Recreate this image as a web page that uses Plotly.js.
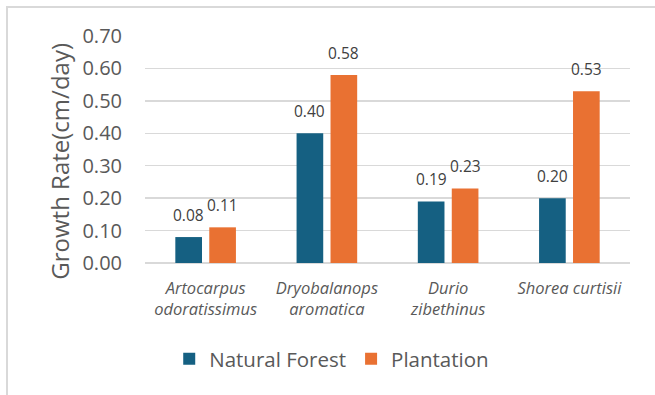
<!DOCTYPE html>
<html>
<head>
<meta charset="utf-8">
<script src="https://cdn.plot.ly/plotly-3.0.1.min.js"></script>
<style>
  html, body { margin: 0; padding: 0; background: #ffffff; }
  #wrap { position: relative; width: 655px; height: 395px; overflow: hidden; }
  #chart { position: absolute; left: 0; top: 0; width: 655px; height: 395px; }
  #frame { position: absolute; left: 6px; top: 6px; width: 700px; height: 450px;
           border-left: 2px solid #d9d9d9; border-top: 2px solid #d9d9d9; pointer-events: none; }
</style>
</head>
<body>
<div id="wrap">
  <div id="chart"></div>
  <div id="frame"></div>
</div>
<script>
// Species (x categories) and growth rates in cm/day
const species = [
  "Artocarpus<br>odoratissimus",
  "Dryobalanops<br>aromatica",
  "Durio<br>zibethinus",
  "Shorea curtisii"
];
const naturalForest = [0.08, 0.40, 0.19, 0.20];
const plantation = [0.11, 0.58, 0.23, 0.53];
const seriesNames = ["Natural Forest", "Plantation"];
const yTicks = [0, 0.1, 0.2, 0.3, 0.4, 0.5, 0.6, 0.7];
const yTickText = yTicks.map(v => v.toFixed(2));

const BLUE = "#156082";
const ORANGE = "#E97132";
const FONT = "Open Sans, Noto Sans, sans-serif";

const traces = [
  { type: "bar", name: seriesNames[0], x: species, y: naturalForest,
    marker: { color: BLUE }, hoverinfo: "skip" },
  { type: "bar", name: seriesNames[1], x: species, y: plantation,
    marker: { color: ORANGE }, hoverinfo: "skip" }
];

// Value labels above each bar, offset left/right to sit over its own bar
const annotations = [];
[[naturalForest, -17], [plantation, 17]].forEach(([vals, dx]) => {
  vals.forEach((v, i) => {
    annotations.push({
      x: species[i], y: v, xref: "x", yref: "y",
      text: v.toFixed(2), showarrow: false,
      xshift: dx, yshift: 22,
      font: { family: FONT, size: 15.5, color: "#404040" }
    });
  });
});

// Vertical axis title
annotations.push({
  xref: "paper", yref: "paper", x: -0.177, y: 0.447,
  xanchor: "center", yanchor: "middle",
  text: "Growth Rate(cm/day)", textangle: -90, showarrow: false,
  font: { family: FONT, size: 24, color: "#595959" }
});

const layout = {
  width: 655, height: 395,
  margin: { l: 145, r: 25, t: 36, b: 132 },
  paper_bgcolor: "#ffffff", plot_bgcolor: "#ffffff",
  font: { family: FONT, color: "#595959" },
  barmode: "group",
  bargap: 0.44,
  bargroupgap: 0.215,
  showlegend: true,
  legend: {
    orientation: "h", x: 0.385, xanchor: "center", y: -0.423, yanchor: "middle",
    font: { family: FONT, size: 20.5, color: "#595959" },
    itemclick: false, itemdoubleclick: false
  },
  xaxis: {
    type: "category",
    showgrid: false, zeroline: false,
    showline: false,
    ticks: "",
    ticklabelstandoff: 13,
    tickfont: { family: FONT, size: 16.5, color: "#595959", style: "italic" }
  },
  yaxis: {
    range: [0, 0.7],
    tickvals: yTicks, ticktext: yTickText,
    showgrid: true, gridcolor: "#d9d9d9", gridwidth: 1.5,
    zeroline: true, zerolinecolor: "#d9d9d9", zerolinewidth: 1.5,
    showline: false, ticks: "",
    ticklabelstandoff: 22,
    tickfont: { family: FONT, size: 20, color: "#595959" },
    fixedrange: true
  },
  annotations: annotations
};

Plotly.newPlot("chart", traces, layout, { displayModeBar: false, staticPlot: true });
</script>
</body>
</html>
